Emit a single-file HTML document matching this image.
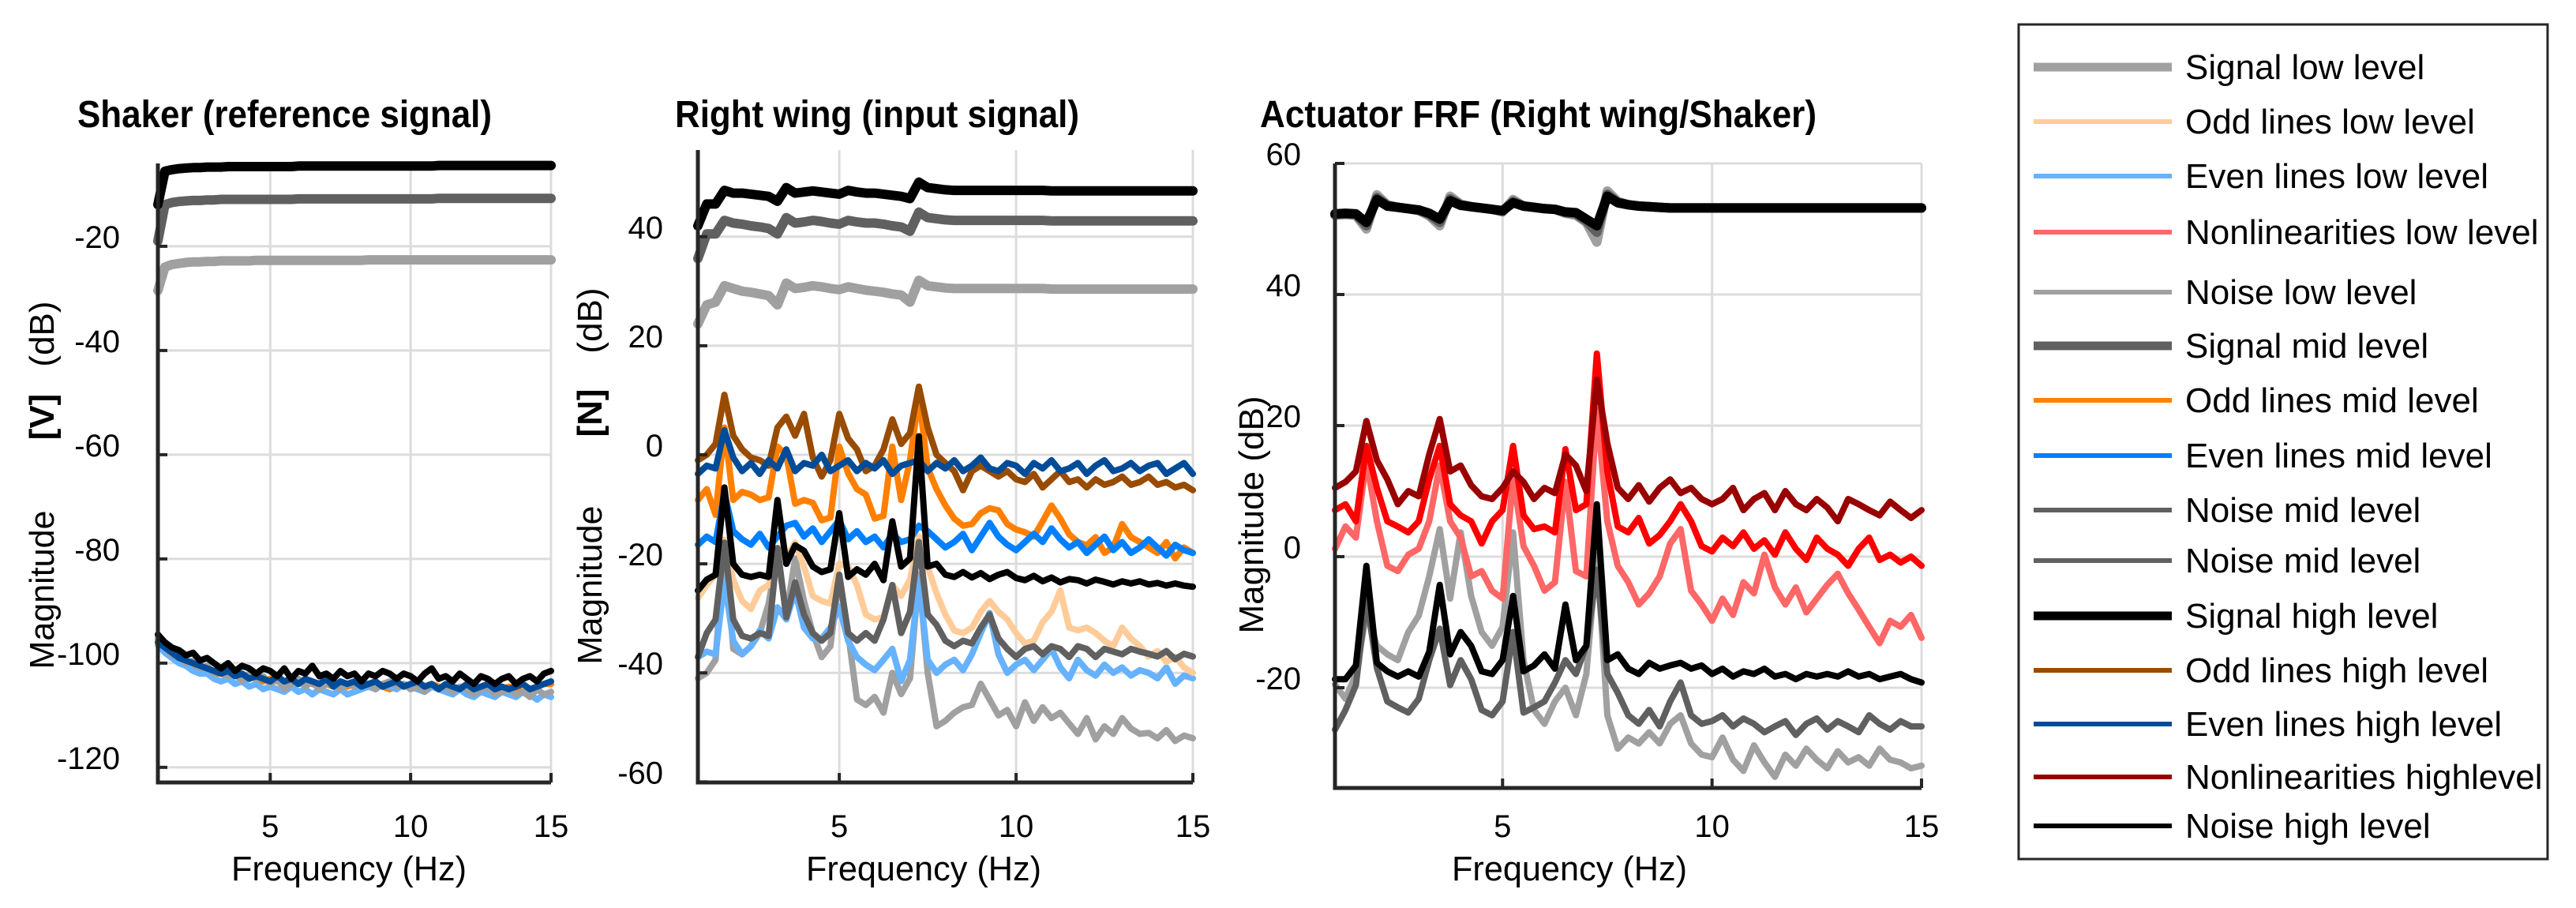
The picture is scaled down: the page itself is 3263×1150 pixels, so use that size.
<!DOCTYPE html>
<html><head><meta charset="utf-8"><title>FRF chart</title>
<style>html,body{margin:0;padding:0;background:#fff}svg{display:block}text{font-family:"Liberation Sans",sans-serif;fill:#000}</style>
</head><body>
<svg id="chart" xmlns="http://www.w3.org/2000/svg" width="3263" height="1150" viewBox="0 0 3263 1150">
<rect width="3263" height="1150" fill="#fff"/>
<g id="grids"></g><g id="series"></g><g id="axes"></g><g id="ticks"></g>
<text x="98" y="161" font-size="48" font-weight="bold" textLength="525" lengthAdjust="spacingAndGlyphs">Shaker (reference signal)</text>
<text x="855" y="161" font-size="48" font-weight="bold" textLength="512" lengthAdjust="spacingAndGlyphs">Right wing (input signal)</text>
<text x="1596" y="161" font-size="48" font-weight="bold" textLength="705" lengthAdjust="spacingAndGlyphs">Actuator FRF (Right wing/Shaker)</text>
<text x="442" y="1115" font-size="44" text-anchor="middle" textLength="298" lengthAdjust="spacingAndGlyphs">Frequency (Hz)</text>
<text x="1170" y="1115" font-size="44" text-anchor="middle" textLength="298" lengthAdjust="spacingAndGlyphs">Frequency (Hz)</text>
<text x="1988" y="1115" font-size="44" text-anchor="middle" textLength="298" lengthAdjust="spacingAndGlyphs">Frequency (Hz)</text>
<g>
<text transform="translate(68,747) rotate(-90)" font-size="44" text-anchor="middle" textLength="201" lengthAdjust="spacingAndGlyphs">Magnitude</text>
<text transform="translate(68,528) rotate(-90)" font-size="44" font-weight="bold" text-anchor="middle">[V]</text>
<text transform="translate(68,423) rotate(-90)" font-size="44" text-anchor="middle">(dB)</text>
</g>
<g>
<text transform="translate(762,741) rotate(-90)" font-size="44" text-anchor="middle" textLength="201" lengthAdjust="spacingAndGlyphs">Magnitude</text>
<text transform="translate(762,523) rotate(-90)" font-size="44" font-weight="bold" text-anchor="middle">[N]</text>
<text transform="translate(762,406) rotate(-90)" font-size="44" text-anchor="middle">(dB)</text>
</g>
<text transform="translate(1600,652) rotate(-90)" font-size="44" text-anchor="middle" textLength="301" lengthAdjust="spacingAndGlyphs">Magnitude (dB)</text>
<g id="legend">
<rect x="2557" y="31" width="670" height="1057" fill="#fff" stroke="#262626" stroke-width="3"/>
</g>
</svg>
<script>
const freq=[1,1.25,1.5,1.75,2,2.25,2.5,2.75,3,3.25,3.5,3.75,4,4.25,4.5,4.75,5,5.25,5.5,5.75,6,6.25,6.5,6.75,7,7.25,7.5,7.75,8,8.25,8.5,8.75,9,9.25,9.5,9.75,10,10.25,10.5,10.75,11,11.25,11.5,11.75,12,12.25,12.5,12.75,13,13.25,13.5,13.75,14,14.25,14.5,14.75,15];
const xTicks=[5,10,15];
const yTicks1=[-120,-100,-80,-60,-40,-20];
const yTicks2=[-60,-40,-20,0,20,40];
const yTicks3=[-20,0,20,40,60];
// Panel 1 (shaker)
const p1SigHigh=[-12,-5.6,-5.3,-5.1,-5,-4.9,-4.9,-4.8,-4.8,-4.8,-4.7,-4.7,-4.7,-4.7,-4.7,-4.7,-4.7,-4.7,-4.7,-4.7,-4.6,-4.6,-4.6,-4.6,-4.6,-4.6,-4.6,-4.6,-4.6,-4.6,-4.6,-4.6,-4.6,-4.6,-4.6,-4.6,-4.6,-4.6,-4.6,-4.6,-4.5,-4.5,-4.5,-4.5,-4.5,-4.5,-4.5,-4.5,-4.5,-4.5,-4.5,-4.5,-4.5,-4.5,-4.5,-4.5,-4.5];
const p1SigMid=[-19,-12,-11.6,-11.4,-11.3,-11.2,-11.2,-11.1,-11.1,-11,-11,-11,-11,-11,-11,-11,-11,-11,-11,-11,-10.9,-10.9,-10.9,-10.9,-10.9,-10.9,-10.9,-10.9,-10.9,-10.9,-10.9,-10.9,-10.9,-10.9,-10.9,-10.9,-10.9,-10.9,-10.9,-10.9,-10.8,-10.8,-10.8,-10.8,-10.8,-10.8,-10.8,-10.8,-10.8,-10.8,-10.8,-10.8,-10.8,-10.8,-10.8,-10.8,-10.8];
const p1SigLow=[-28.5,-24,-23.5,-23.3,-23.1,-23,-23,-22.9,-22.9,-22.8,-22.8,-22.8,-22.8,-22.8,-22.7,-22.7,-22.7,-22.7,-22.7,-22.7,-22.7,-22.7,-22.7,-22.7,-22.7,-22.7,-22.7,-22.7,-22.7,-22.7,-22.6,-22.6,-22.6,-22.6,-22.6,-22.6,-22.6,-22.6,-22.6,-22.6,-22.6,-22.6,-22.6,-22.6,-22.6,-22.6,-22.6,-22.6,-22.6,-22.6,-22.6,-22.6,-22.6,-22.6,-22.6,-22.6,-22.6];
const p1NoiseHigh=[-94.5,-96,-97,-97.5,-98.5,-98,-99.5,-99,-100,-101,-100,-101.5,-100.5,-101,-102,-101,-101.5,-102.5,-101,-103,-101.5,-102,-100.5,-102.5,-102,-103,-101.5,-102.5,-102,-103.5,-102,-102.5,-101.5,-102,-103,-102,-102.5,-103.5,-102,-101,-103,-102.5,-103.5,-102,-103,-104,-102.5,-103,-104,-103,-102.5,-104,-103,-102.5,-103.5,-102,-101.5];
const p1EvenHigh=[-96,-97,-98,-99,-99.5,-100,-100.5,-101,-101.5,-102,-101.5,-102.5,-102,-103,-102.5,-103,-103.5,-102.5,-103.5,-103,-104,-103,-103.5,-104,-103,-104.5,-103.5,-104,-103.5,-104.5,-104,-103.5,-104.5,-104,-103.5,-104.5,-104,-103.5,-104.5,-104,-105,-104,-104.5,-105,-104,-105,-104.5,-104,-105,-104.5,-105,-104.5,-104,-105,-104.5,-104,-103.5];
const p1EvenLow=[-96.5,-98,-99,-100,-100.5,-101.5,-102,-102,-103,-103.5,-103,-104,-103.5,-104.5,-104,-105,-104.5,-105,-105.5,-104.5,-105.5,-105,-106,-105,-105.5,-106,-105,-106,-105.5,-105,-104.5,-105,-104,-104.5,-105,-104,-104.5,-105,-105.5,-104.5,-105,-105.5,-106,-105,-106,-106.5,-105.5,-106,-106.5,-105.5,-106,-106.5,-105.5,-106,-107,-106,-106.5];
const p1NoiseLow=[-95,-97,-98.5,-98,-100,-99.5,-101,-100.5,-102,-101,-102.5,-102,-103.5,-102,-103,-102.5,-104,-103,-105,-104,-103,-104.5,-103.5,-105,-104,-103.5,-105,-104,-104.5,-103.5,-104,-105,-104,-103.5,-104.5,-104,-105,-104.5,-105.5,-104,-105,-104.5,-105.5,-104.5,-105,-106,-105,-104.5,-106,-105.5,-105,-106,-105.5,-106.5,-105,-106,-105.5];
const p1OddMid=[-95.5,-97,-98,-99.5,-100,-100.5,-101,-101.5,-102,-102,-102.5,-102,-103,-102.5,-103,-103.5,-103,-103.5,-104,-103.5,-104,-103.5,-104,-104.5,-104,-104.5,-104,-104.5,-104,-104.5,-104.5,-104,-104.5,-105,-104.5,-104,-104.5,-105,-104.5,-104,-104.5,-105,-104.5,-105,-105.5,-105,-104.5,-105,-105.5,-105,-104.5,-105,-105.5,-105,-104.5,-104,-104];
// Panel 2 (right wing)
const p2SigHigh=[42,46,46,48.5,48,48,47.8,47.6,47.4,46.5,49,48,48.2,48.4,48.2,48,47.8,48.5,48.2,48,48,47.8,47.6,47.4,47,50,49,48.8,48.6,48.5,48.5,48.5,48.5,48.5,48.5,48.5,48.5,48.5,48.5,48.5,48.4,48.4,48.4,48.4,48.4,48.4,48.4,48.4,48.4,48.4,48.4,48.4,48.4,48.4,48.4,48.4,48.4];
const p2SigMid=[36,40.5,40.5,43,42.5,42.3,42,41.8,41.5,40.5,43.5,42.5,42.7,43,42.8,42.5,42.3,43,42.7,42.5,42.5,42.3,42,41.8,41,44.5,43.5,43.3,43.1,43,43,43,43,43,43,43,43,43,43,43,42.9,42.9,42.9,42.9,42.9,42.9,42.9,42.9,42.9,42.9,42.9,42.9,42.9,42.9,42.9,42.9,42.9];
const p2SigLow=[24,27.5,28,31,30.5,30,29.8,29.5,29.2,27.5,31.5,30.5,30.7,31,30.8,30.5,30.3,30.8,30.5,30.2,30,29.8,29.5,29.3,28,32,31,30.8,30.6,30.5,30.5,30.5,30.5,30.5,30.5,30.5,30.5,30.5,30.5,30.5,30.4,30.4,30.4,30.4,30.4,30.4,30.4,30.4,30.4,30.4,30.4,30.4,30.4,30.4,30.4,30.4,30.4];
const p2OddHigh=[-1,0,2,11,3.5,1,-0.5,-1,-2,5,7,3.5,7.5,-0.5,-4,-1,7.5,3,1,-3,-2,1,6.5,2,4,12.5,5,0,-1.5,-3,-6.5,-3,-2,-3,-4,-3,-4.5,-5,-3.5,-6,-4.5,-3,-5,-4.5,-6,-4.5,-5.5,-5,-4,-5.5,-5,-4,-5.5,-5,-6,-5.5,-6.5];
const p2EvenHigh=[-3.5,-2,-2.5,4.5,-0.5,-3,-1.5,-3.5,-1,-2.5,1,-3,-1.5,-2,0,-3,-2,-1,-3,-1.5,-2.5,-1,-3.5,-2,-1.5,-1,-3,-1.5,-2.5,-1,-3,-2,-0.5,-2.5,-3,-1.5,-2,-3.5,-1.5,-2.5,-1,-3,-2.5,-1.5,-3.5,-2,-1,-3,-2.5,-1.5,-3,-2,-1.5,-3.5,-2.5,-1.5,-3.5];
const p2OddMid=[-8.3,-6.3,-11,5,-8.3,-6.8,-7.3,-8.3,-7.8,1.5,0,-9,-8.3,-8.8,-12,-11.5,1.5,-3.4,-6.3,-7.3,-11.7,-11.2,1.5,-8.3,-1,10.7,-2.4,-6.3,-9.3,-11.7,-13,-12.7,-10.7,-9.8,-10.2,-12.7,-13.7,-14.2,-15,-12.2,-9.3,-11.7,-14.6,-16,-16.6,-15.1,-18,-17,-12.7,-15.1,-16,-17,-18,-16,-19,-17,-18];
const p2EvenMid=[-16.5,-15,-16,-7,-14,-15.5,-16.5,-14.5,-17,-15,-13,-12.5,-15,-13.5,-16,-14,-12,-15.5,-14,-16,-15,-17,-14.5,-16,-15.5,-13,-14,-15.5,-17,-16,-14.5,-17.5,-15,-12.5,-15,-16.5,-17.5,-16,-14.5,-16,-13.5,-15.5,-17,-16,-18,-16.5,-15,-17.5,-16,-18,-17,-15.5,-17,-18.5,-16.5,-17.5,-18];
const p2NoiseHigh=[-24.9,-22.9,-22,-6,-20,-22,-22.4,-22,-22.4,-8.3,-20,-16.6,-17.6,-20.5,-21.5,-21,-10.7,-22.4,-21,-22,-20,-23,-12.2,-20.5,-19,3.4,-20.5,-20,-22,-22.4,-21.5,-22.5,-21.7,-22.8,-22,-21.5,-22.6,-23,-22.2,-23.2,-22.5,-23.4,-22.8,-23,-23.6,-22.9,-23.3,-23.8,-23.2,-23.6,-23.2,-23.8,-23.5,-24,-23.6,-24,-24.2];
const p2OddLow=[-26.3,-23.9,-22,-15.6,-22.9,-26.8,-28.3,-24.9,-23.9,-18,-19,-16.1,-20.5,-25.9,-26.8,-27.3,-20,-20.5,-23.9,-29.3,-30.2,-29.8,-23.9,-25.9,-22.9,-15,-20.5,-25.4,-29.3,-32.2,-32.7,-31.7,-28.8,-26.8,-28.8,-30.2,-32.7,-34.6,-34.1,-30.7,-28.8,-24.9,-31.7,-32.2,-31.7,-32.7,-34.1,-35.1,-31.7,-33.7,-35.1,-37,-36,-38,-37,-39,-40];
const p2EvenLow=[-37.1,-36.1,-36.6,-23,-34.1,-36.6,-35.1,-32.2,-33.7,-28,-30.2,-25,-31.7,-33.7,-33.7,-31.7,-27.8,-34.1,-37.1,-38.5,-39.5,-37.6,-35.6,-41.5,-37.6,-23,-37.6,-40,-38.5,-37.6,-39.5,-36.6,-32.7,-29,-36.6,-40,-38.5,-37.6,-39.5,-37.6,-35.6,-39,-41,-37.6,-39.5,-40.5,-38.5,-40,-39,-40.5,-39.5,-40,-41,-39,-42,-40.5,-41];
const p2NoiseMid=[-37.1,-32.7,-30.2,-16.1,-30.2,-33.2,-33.7,-32.7,-33.2,-17.1,-29.8,-23.4,-29.3,-32.7,-34.1,-32.7,-22,-32.7,-34.1,-32.7,-34.1,-30.2,-23.9,-32.7,-28.8,-16,-29.3,-31.2,-34.1,-35.1,-34.1,-34.6,-31.7,-29.3,-33.7,-35.6,-37.1,-35.6,-35.1,-36.6,-35.1,-35.6,-37.1,-35.1,-35.6,-37.1,-35.6,-36.1,-36.6,-35.6,-36.1,-36.5,-37,-36,-37.5,-36.5,-37];
const p2NoiseLow=[-41,-40,-37.6,-15.6,-35.6,-36.6,-35.1,-32.7,-27.3,-18,-29.3,-19,-26.8,-32.7,-37.1,-35.1,-22.4,-32.7,-44.9,-45.9,-44.4,-47.3,-40,-43.9,-41,-22,-40,-49.8,-48.8,-47.3,-46.3,-45.9,-42,-44.9,-47.8,-46.8,-49.8,-45.4,-48.8,-46.3,-48.3,-47.3,-49.3,-51.2,-48.3,-52.2,-49.8,-51.2,-48.3,-50.2,-51.2,-51,-52,-50.5,-52.5,-51.5,-52];
// Panel 3 (FRF)
const p3SigHigh=[52.3,52.4,52.3,51,54.5,53.5,53.3,53.1,52.9,52.4,51.5,54.3,53.6,53.4,53.2,53,52.8,54,53.5,53.3,53.1,53,52.6,52.5,51.5,50.5,55,54,53.7,53.5,53.4,53.3,53.2,53.2,53.2,53.2,53.2,53.2,53.2,53.2,53.2,53.2,53.2,53.2,53.2,53.2,53.2,53.2,53.2,53.2,53.2,53.2,53.2,53.2,53.2,53.2,53.2];
const p3SigMid=[52.2,52.3,52.2,50.5,54.8,53.6,53.3,53.1,52.9,52.2,51,54.6,53.7,53.4,53.2,53,52.7,54.2,53.5,53.3,53.1,53,52.5,52.3,51.2,49.5,55.3,54.1,53.7,53.5,53.4,53.3,53.2,53.2,53.2,53.2,53.2,53.2,53.2,53.2,53.2,53.2,53.2,53.2,53.2,53.2,53.2,53.2,53.2,53.2,53.2,53.2,53.2,53.2,53.2,53.2,53.2];
const p3SigLow=[52.1,52.2,52.1,50,55.2,53.7,53.3,53.1,52.8,52,50.5,55,53.8,53.4,53.2,53,52.6,54.5,53.5,53.3,53.1,53,52.4,52.1,51,48,55.8,54.2,53.7,53.5,53.4,53.3,53.2,53.2,53.2,53.2,53.2,53.2,53.2,53.2,53.2,53.2,53.2,53.2,53.2,53.2,53.2,53.2,53.2,53.2,53.2,53.2,53.2,53.2,53.2,53.2,53.2];
const p3NlHigh=[10.5,11.4,13,20.7,14.7,11.8,8,10,9.2,15.6,21,13,13.9,10.9,9.2,8.8,10.5,13,11.4,8.8,10.5,9.7,15.6,13.9,10,27,17.3,10.5,8.8,10.9,8.4,10.5,11.8,9.7,10.5,8.8,8,8.8,10.5,7.1,8.8,9.7,7.1,10,8,7.1,8.8,7.5,5.4,8.8,8,7.1,6.3,8.4,7.1,5.9,7.1];
const p3NlMid=[7.1,8,5.4,16.9,10.5,5.4,4.6,3.7,5.4,11.8,16.9,8,6.3,5.4,2,5.4,7.1,16.9,6.3,4.2,4.6,3.7,16.4,7.1,8,31,13,4.6,3.7,5.9,2,3.3,5.4,8,5.4,1.6,0.8,2.9,1.6,3.7,1.2,2.5,0.3,3.7,1.2,-0.5,2.9,1.2,0.3,-1.4,1.2,2.9,-0.5,0.3,-0.9,0,-1.4];
const p3NlLow=[1.2,4.6,2.9,14.7,5.4,-1.4,-2.2,0.3,1.2,5.4,13.9,5.4,2.9,-3,-2.2,-5.2,-6.4,12.2,1.6,-1.4,-5.2,-3.9,11.4,-2.2,-3,22.4,5.4,-1.4,-3.9,-7.3,-5.6,-3,2,4.2,-5.2,-7.3,-9.8,-6.4,-8.9,-3.9,-5.6,0.3,-4.7,-7.3,-4.7,-8.5,-6.4,-4.3,-2.6,-5.6,-8.1,-10.7,-13.2,-9.8,-10.7,-8.9,-12.4];
const p3NoiseHigh=[-18.7,-18.7,-16.6,-1.4,-16.2,-17.5,-18.3,-17.5,-18.3,-14.5,-4.3,-14.9,-11.5,-13.6,-17.5,-17.9,-15.8,-6,-17.5,-16.6,-14.9,-17.1,-7.3,-15.8,-13.6,8,-15.8,-14.9,-17.1,-17.9,-16.2,-17.1,-16.6,-16.2,-17.1,-16.6,-17.9,-17.1,-18.3,-17.5,-17.9,-17.1,-18.3,-17.9,-18.7,-17.9,-18.3,-17.9,-18.3,-17.5,-18.3,-17.9,-18.7,-18.3,-17.9,-18.7,-19.2];
const p3NoiseMid=[-26.4,-23.4,-19.6,-6.4,-17,-22.1,-23,-23.8,-21.7,-15.8,-11,-19.6,-15.8,-18.7,-23.4,-24.2,-22.1,-11.5,-23.8,-23,-22.1,-19.2,-15.8,-17.9,-13.6,-2,-17.9,-20.8,-24.2,-25.5,-23.4,-25.9,-22.1,-19.2,-24.2,-25.5,-25.1,-24.2,-25.9,-24.7,-25.5,-26.8,-25.9,-25.1,-27.2,-25.5,-24.7,-26.4,-25.1,-25.9,-26.8,-24.2,-25.5,-26.4,-25.1,-25.9,-25.9];
const p3NoiseLow=[-19.5,-21.7,-17.9,-8.6,-13.6,-14.9,-15.8,-11.5,-9,-3,4.2,-6.4,3.7,-6,-11.5,-13.6,-10.7,3.7,-15.8,-23.4,-25.5,-22.1,-20,-24.2,-17.9,0.3,-24.2,-29.3,-27.6,-28.5,-26.8,-28.5,-25.5,-24.2,-28.5,-30.2,-30.6,-27.6,-31,-32.7,-28.8,-31.4,-33.6,-30.2,-31.9,-29.3,-31,-32.3,-29.7,-31.4,-30.6,-31.9,-29.3,-31,-31.4,-32.3,-31.9];
const legendLabels=["Signal low level","Odd lines low level","Even lines low level","Nonlinearities low level","Noise low level","Signal mid level","Odd lines mid level","Even lines mid level","Noise mid level","Noise mid level","Signal high level","Odd lines high level","Even lines high level","Nonlinearities highlevel","Noise high level"];

const NS="http://www.w3.org/2000/svg";
const C={sigLow:"#a0a0a0",oddLow:"#ffcc99",evenLow:"#66b2ff",nlLow:"#ff6666",noiseLow:"#a0a0a0",sigMid:"#606060",oddMid:"#ff8000",evenMid:"#0080ff",nlMid:"#ff0000",noiseMid:"#606060",sigHigh:"#000000",oddHigh:"#994c00",evenHigh:"#004c99",nlHigh:"#990000",noiseHigh:"#000000"};
const P1={x0:200,x1:698,yb:991,yt:207,ymin:-122.9,ymax:-4.1,lx:152};
const P2={x0:884,x1:1511,yb:991,yt:190,ymin:-60.1,ymax:55.9,lx:840};
const P3={x0:1691,x1:2434,yb:998,yt:207,ymin:-35.3,ymax:60,lx:1648};
const TW=8, SW=12;
function sx(p,f){return p.x0+(f-1)/(15-1)*(p.x1-p.x0);}
function sy(p,v){return p.yb-(v-p.ymin)/(p.ymax-p.ymin)*(p.yb-p.yt);}
function mk(tag,parent){const e=document.createElementNS(NS,tag);document.getElementById(parent).appendChild(e);return e;}
function drawAxes(p,yt,id){
  yt.forEach(v=>{const y=sy(p,v);
    const g=mk("line","grids");g.setAttribute("x1",p.x0);g.setAttribute("x2",p.x1);g.setAttribute("y1",y);g.setAttribute("y2",y);g.setAttribute("stroke","#dcdcdc");g.setAttribute("stroke-width","3");
    
    
    const tk=mk("line","axes");tk.setAttribute("x1",p.x0);tk.setAttribute("x2",p.x0+12);tk.setAttribute("y1",y);tk.setAttribute("y2",y);tk.setAttribute("stroke","#262626");tk.setAttribute("stroke-width","4");
    
    
    const t=mk("text","ticks");t.setAttribute("x",p.lx);t.setAttribute("y",y+2);t.setAttribute("font-size","40");t.setAttribute("text-anchor","end");t.setAttribute("fill","#262626");t.textContent=String(v);
    
    
  });
  xTicks.forEach(f=>{const x=sx(p,f);
    const g=mk("line","grids");g.setAttribute("x1",x);g.setAttribute("x2",x);g.setAttribute("y1",p.yt);g.setAttribute("y2",p.yb);g.setAttribute("stroke","#dcdcdc");g.setAttribute("stroke-width","3");
    
    
    const tk=mk("line","axes");tk.setAttribute("x1",x);tk.setAttribute("x2",x);tk.setAttribute("y1",p.yb);tk.setAttribute("y2",p.yb-12);tk.setAttribute("stroke","#262626");tk.setAttribute("stroke-width","4");
    
    
    const t=mk("text","ticks");t.setAttribute("x",x);t.setAttribute("y",1060);t.setAttribute("font-size","40");t.setAttribute("text-anchor","middle");t.setAttribute("fill","#262626");t.textContent=String(f);
    
    
  });
  const a=mk("path","axes");a.setAttribute("d","M"+p.x0+","+p.yt+"V"+p.yb+"H"+p.x1);a.setAttribute("fill","none");a.setAttribute("stroke","#262626");a.setAttribute("stroke-width","5");
  
  
}
function line(p,vals,color,w,name){
  const d=vals.map((v,i)=>(i?"L":"M")+sx(p,freq[i]).toFixed(1)+","+sy(p,v).toFixed(1)).join("");
  const e=mk("path","series");e.setAttribute("d",d);e.setAttribute("fill","none");e.setAttribute("stroke",color);e.setAttribute("stroke-width",w);e.setAttribute("stroke-linejoin","round");e.setAttribute("stroke-linecap","round");
  
  
}
drawAxes(P1,yTicks1,"shaker");drawAxes(P2,yTicks2,"wing");drawAxes(P3,yTicks3,"frf");
// panel 1
line(P1,p1OddMid,C.oddMid,TW,"shaker-odd-mid");
line(P1,p1EvenLow,C.evenLow,TW,"shaker-even-low");
line(P1,p1NoiseLow,C.noiseLow,TW,"shaker-noise-low");
line(P1,p1EvenHigh,C.evenHigh,TW,"shaker-even-high");
line(P1,p1NoiseHigh,C.noiseHigh,TW,"shaker-noise-high");
line(P1,p1SigLow,C.sigLow,SW,"shaker-signal-low");
line(P1,p1SigMid,C.sigMid,SW,"shaker-signal-mid");
line(P1,p1SigHigh,C.sigHigh,SW,"shaker-signal-high");
// panel 2
line(P2,p2SigLow,C.sigLow,SW,"wing-signal-low");
line(P2,p2SigMid,C.sigMid,SW,"wing-signal-mid");
line(P2,p2SigHigh,C.sigHigh,SW,"wing-signal-high");
line(P2,p2NoiseLow,C.noiseLow,TW,"wing-noise-low");
line(P2,p2EvenLow,C.evenLow,TW,"wing-even-low");
line(P2,p2OddLow,C.oddLow,TW,"wing-odd-low");
line(P2,p2NoiseMid,C.noiseMid,TW,"wing-noise-mid");
line(P2,p2OddMid,C.oddMid,TW,"wing-odd-mid");
line(P2,p2EvenMid,C.evenMid,TW,"wing-even-mid");
line(P2,p2OddHigh,C.oddHigh,TW,"wing-odd-high");
line(P2,p2EvenHigh,C.evenHigh,TW,"wing-even-high");
line(P2,p2NoiseHigh,C.noiseHigh,TW,"wing-noise-high");
// panel 3
line(P3,p3NoiseLow,C.noiseLow,TW,"frf-noise-low");
line(P3,p3NoiseMid,C.noiseMid,TW,"frf-noise-mid");
line(P3,p3NlLow,C.nlLow,TW,"frf-nonlin-low");
line(P3,p3NlMid,C.nlMid,TW,"frf-nonlin-mid");
line(P3,p3NlHigh,C.nlHigh,TW,"frf-nonlin-high");
line(P3,p3NoiseHigh,C.noiseHigh,TW,"frf-noise-high");
line(P3,p3SigLow,C.sigLow,SW,"frf-signal-low");
line(P3,p3SigMid,C.sigMid,SW,"frf-signal-mid");
line(P3,p3SigHigh,C.sigHigh,SW,"frf-signal-high");
// legend
const lgColors=[C.sigLow,C.oddLow,C.evenLow,C.nlLow,C.noiseLow,C.sigMid,C.oddMid,C.evenMid,C.noiseMid,C.noiseMid,C.sigHigh,C.oddHigh,C.evenHigh,C.nlHigh,C.noiseHigh];
const lgWidths=[11,6,6,6,6,11,6,6,6,6,11,6,6,6,6];
const lgY=[85,154,223,294,370,438,507,577,646,710,780,849,917,984,1046];
legendLabels.forEach((lab,i)=>{
  const l=mk("line","legend");l.setAttribute("x1",2576);l.setAttribute("x2",2751);l.setAttribute("y1",lgY[i]);l.setAttribute("y2",lgY[i]);l.setAttribute("stroke",lgColors[i]);l.setAttribute("stroke-width",lgWidths[i]);
  
  
  const t=mk("text","legend");t.setAttribute("x",2768);t.setAttribute("y",lgY[i]+15);t.setAttribute("font-size","44");t.textContent=lab;
  
  
});
</script>
</body></html>
